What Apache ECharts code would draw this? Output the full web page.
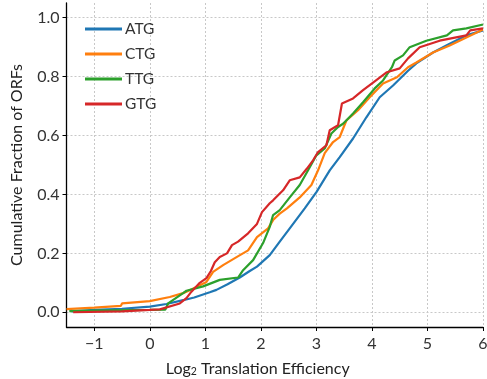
<!DOCTYPE html>
<html><head><meta charset="utf-8">
<script src="https://cdn.jsdelivr.net/npm/echarts@6/dist/echarts.min.js"></script>
<style>html,body{margin:0;padding:0;background:#fff}#c{width:487px;height:379px}</style>
</head><body><div id="c"></div>
<script>
var seriesNames = ['ATG', 'CTG', 'TTG', 'GTG'];
var xTicks = [-1, 0, 1, 2, 3, 4, 5, 6];
var yTicks = [0, 0.2, 0.4, 0.6, 0.8, 1.0];
var ATG = [[-1.4,0.003],[-1.0,0.008],[-0.5,0.012],[0,0.019],[0.3,0.028],[0.6,0.041],[0.8,0.05],[1.08,0.068],[1.2,0.076],[1.4,0.095],[1.62,0.118],[1.8,0.14],[1.93,0.155],[2.16,0.194],[2.34,0.24],[2.52,0.285],[2.79,0.353],[3.0,0.408],[3.24,0.482],[3.42,0.527],[3.66,0.59],[3.9,0.662],[4.14,0.73],[4.38,0.77],[4.65,0.82],[4.8,0.845],[5.1,0.882],[5.4,0.912],[5.7,0.94],[6.0,0.957]];
var CTG = [[-1.5,0.011],[-1.0,0.016],[-0.52,0.022],[-0.5,0.03],[0,0.038],[0.36,0.052],[0.6,0.065],[0.72,0.075],[0.9,0.092],[1.02,0.103],[1.14,0.137],[1.32,0.16],[1.57,0.188],[1.77,0.21],[1.93,0.255],[2.13,0.285],[2.22,0.313],[2.34,0.335],[2.47,0.353],[2.7,0.39],[2.91,0.432],[3.03,0.482],[3.15,0.54],[3.3,0.578],[3.42,0.595],[3.54,0.651],[3.75,0.686],[3.96,0.73],[4.2,0.777],[4.45,0.798],[4.65,0.832],[4.8,0.848],[5.1,0.882],[5.4,0.906],[5.7,0.933],[6.0,0.96]];
var TTG = [[-1.45,0.004],[-1.0,0.006],[0,0.008],[0.28,0.009],[0.33,0.03],[0.6,0.065],[0.66,0.073],[0.96,0.088],[1.26,0.11],[1.59,0.118],[1.68,0.143],[1.86,0.177],[2.04,0.235],[2.16,0.29],[2.22,0.33],[2.34,0.347],[2.52,0.39],[2.7,0.432],[2.85,0.482],[3.0,0.533],[3.15,0.556],[3.27,0.607],[3.39,0.629],[3.48,0.64],[3.66,0.675],[3.84,0.713],[4.05,0.76],[4.2,0.787],[4.36,0.832],[4.41,0.855],[4.56,0.872],[4.68,0.9],[4.98,0.922],[5.35,0.94],[5.46,0.957],[5.7,0.964],[6.0,0.977]];
var GTG = [[-1.38,0.0],[-0.5,0.003],[0,0.008],[0.18,0.01],[0.54,0.03],[0.66,0.048],[0.75,0.07],[0.9,0.1],[1.02,0.116],[1.1,0.14],[1.17,0.17],[1.26,0.188],[1.39,0.2],[1.48,0.228],[1.59,0.24],[1.77,0.268],[1.93,0.3],[2.02,0.34],[2.16,0.37],[2.22,0.38],[2.4,0.414],[2.52,0.448],[2.7,0.458],[2.83,0.488],[2.94,0.516],[3.03,0.544],[3.18,0.567],[3.24,0.618],[3.39,0.635],[3.46,0.709],[3.66,0.726],[3.84,0.754],[4.02,0.78],[4.27,0.815],[4.5,0.828],[4.65,0.862],[4.86,0.9],[5.22,0.922],[5.7,0.94],[5.77,0.957],[6.0,0.964]];
var seriesData = [ATG, CTG, TTG, GTG];
var colors = ['#1f77b4', '#ff7f0e', '#2ca02c', '#d62728'];

var FONT = 'Lato';
var chart = echarts.init(document.getElementById('c'));
chart.setOption({
  animation: false,
  color: colors,
  textStyle: { fontFamily: FONT },
  grid: { left: 66.5, right: 4, top: 3, bottom: 52, containLabel: false, outerBoundsMode: 'none' },
  legend: {
    orient: 'vertical', left: 80, top: 16,
    itemWidth: 37, itemHeight: 3, itemGap: 9, icon: 'rect',
    textStyle: { fontFamily: FONT, fontSize: 15.5, color: '#333', lineHeight: 16, padding: [0,0,0,-2] },
    data: seriesNames
  },
  xAxis: {
    type: 'value', min: -1.5, max: 6,
    name: '{a|Log}{s|2}{a| Translation Efficiency}',
    nameLocation: 'middle', nameGap: 30,
    nameTextStyle: { padding: [0, 34, 0, 0], rich: {
      a: { fontFamily: FONT, fontSize: 16, color: '#222', lineHeight: 20, verticalAlign: 'bottom' },
      s: { fontFamily: FONT, fontSize: 10.5, color: '#222', lineHeight: 13, verticalAlign: 'bottom' }
    } },
    axisLine: { show: true, onZero: false, lineStyle: { color: '#000', width: 1.3 } },
    axisTick: { show: true, length: 4, customValues: xTicks, lineStyle: { color: '#000' } },
    axisLabel: { customValues: xTicks, margin: 9, fontFamily: FONT, fontSize: 16, color: '#333',
      formatter: function (v) { return v < 0 ? '\u2212' + Math.abs(v) : String(v); } },
    splitLine: { show: true, lineStyle: { color: '#c8c8c8', type: [2, 2], width: 1 } }
  },
  yAxis: {
    type: 'value', min: -0.05, max: 1.05,
    name: 'Cumulative Fraction of ORFs',
    nameLocation: 'middle', nameGap: 42,
    nameTextStyle: { fontFamily: FONT, fontSize: 16, color: '#222' },
    axisLine: { show: true, onZero: false, lineStyle: { color: '#000', width: 1.3 } },
    axisTick: { show: true, length: 4, customValues: yTicks, lineStyle: { color: '#000' } },
    axisLabel: { customValues: yTicks, margin: 7, fontFamily: FONT, fontSize: 16, color: '#333',
      formatter: function (v) { return v.toFixed(1); } },
    splitLine: { show: true, lineStyle: { color: '#c8c8c8', type: [2, 2], width: 1 } }
  },
  series: seriesNames.map(function (n, i) {
    return { name: n, type: 'line', data: seriesData[i], showSymbol: false, symbol: 'none',
      lineStyle: { width: 2.2, color: colors[i] }, z: 2 + i };
  })
});
</script></body></html>
